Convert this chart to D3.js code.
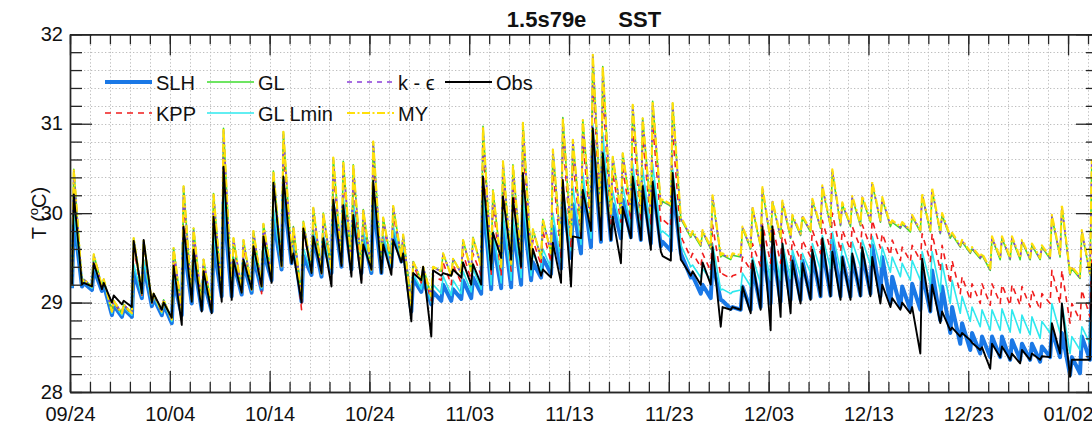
<!DOCTYPE html>
<html><head><meta charset="utf-8">
<script src="https://cdn.jsdelivr.net/npm/d3@7"></script>
<style>
body{margin:0;background:#fff;overflow:hidden}
svg{display:block}
text{font-family:Arial,"Liberation Sans",Helvetica,sans-serif}
</style>
</head><body><div id="chart"></div>
<script>
// ---------- DATA ----------
const titleLeft = "1.5s79e";
const titleRight = "SST";
const yAxisTitle = ["T (", "o", "C)"];
const seriesNames = ["SLH", "KPP", "GL", "GL Lmin", "k - \u03f5", "MY", "Obs"];
const xTickLabels = ["09/24","10/04","10/14","10/24","11/03","11/13","11/23","12/03","12/13","12/23","01/02"];
const yTickLabels = [28, 29, 30, 31, 32];
// each series: one [pre-spike trough, afternoon peak] pair per day, from 09/24 onward
const slhTemp = [
29.16,29.95, 29.18,29.22, 29.14,29.38, 29.13,29.20, 28.86,28.97, 28.84,28.93, 28.84,29.34, 29.05,29.42, 28.96,29.05, 28.86,28.98,
28.77,29.25, 28.86,29.67, 28.99,29.47, 28.92,29.25, 28.90,29.64, 29.07,30.12, 29.07,29.45, 29.09,29.44, 29.11,29.51, 29.14,29.57,
29.25,29.94, 29.37,30.24, 29.44,29.68, 29.01,29.52, 29.31,29.74, 29.29,29.70, 29.33,30.06, 29.40,30.07, 29.37,30.03, 29.33,29.74,
29.33,30.16, 29.33,29.69, 29.40,29.79, 29.46,29.64, 28.90,29.27, 29.12,29.26, 28.98,29.12, 29.02,29.20, 29.02,29.15, 29.04,29.25,
29.05,29.28, 29.10,30.20, 29.15,29.70, 29.16,29.90, 29.17,29.85, 29.20,30.05, 29.25,29.45, 29.28,29.50, 29.32,29.85, 29.38,30.15,
29.50,30.10, 29.55,30.30, 29.62,30.80, 29.68,30.70, 29.70,30.10, 29.72,30.15, 29.73,30.35, 29.70,30.30, 29.66,30.35, 29.63,29.68,
29.58,30.30, 29.55,29.50, 29.28,29.30, 29.10,29.20, 29.05,29.45, 29.03,29.02, 28.93,28.95, 28.92,29.18, 28.92,29.40, 28.95,29.62,
28.99,29.62, 29.01,29.59, 29.03,29.51, 29.03,29.47, 29.05,29.53, 29.07,29.62, 29.08,29.70, 29.07,29.51, 29.07,29.51, 29.08,29.55,
29.10,29.64, 29.07,29.51, 28.99,29.29, 28.95,29.18, 28.92,29.21, 28.92,29.33, 28.90,29.36, 28.80,29.18, 28.66,28.95, 28.54,28.77,
28.47,28.66, 28.43,28.62, 28.39,28.62, 28.39,28.62, 28.36,28.58, 28.36,28.54, 28.36,28.54, 28.34,28.51, 28.39,28.69, 28.39,28.66,
28.19,28.39, 28.21,28.62, 28.36,29.30];
const kppTemp = [
29.19,30.33, 29.21,29.25, 29.17,29.50, 29.17,29.25, 28.90,29.00, 28.87,28.97, 28.87,29.62, 29.08,29.62, 28.99,29.09, 28.89,29.02,
28.80,29.51, 28.89,30.13, 29.02,29.73, 28.95,29.42, 28.93,30.07, 29.10,30.73, 29.10,29.65, 29.12,29.63, 29.14,29.72, 29.10,29.80,
29.27,30.33, 29.40,30.73, 29.47,29.80, 28.92,29.81, 29.34,29.97, 29.32,29.92, 29.36,30.47, 29.43,30.44, 29.40,30.40, 29.25,29.96,
29.36,30.63, 29.36,29.88, 29.43,30.00, 29.49,29.72, 28.95,29.42, 29.22,29.35, 29.02,29.30, 29.25,29.45, 29.20,29.42, 29.22,29.55,
29.25,29.55, 29.30,30.80, 29.30,30.10, 29.30,30.40, 29.35,30.35, 29.35,30.80, 29.40,29.70, 29.42,29.80, 29.45,30.50, 29.50,30.85,
29.62,30.60, 29.72,30.80, 29.80,31.50, 29.85,31.35, 29.88,30.45, 29.90,30.50, 29.92,30.95, 29.90,30.85, 29.88,31.00, 29.90,29.93,
29.85,30.90, 29.75,29.70, 29.50,29.55, 29.40,29.55, 29.35,29.87, 29.30,29.32, 29.27,29.30, 29.33,29.51, 29.36,29.66, 29.40,29.88,
29.44,29.87, 29.44,29.81, 29.47,29.70, 29.47,29.70, 29.51,29.81, 29.55,29.92, 29.59,30.00, 29.57,29.81, 29.59,29.85, 29.61,29.87,
29.62,29.92, 29.61,29.77, 29.53,29.70, 29.47,29.62, 29.46,29.64, 29.47,29.77, 29.46,29.77, 29.36,29.64, 29.21,29.47, 29.10,29.29,
29.03,29.21, 28.99,29.21, 28.97,29.21, 28.99,29.20, 28.97,29.20, 28.97,29.18, 28.95,29.14, 28.92,29.10, 28.99,29.36, 28.99,29.36,
28.77,28.99, 28.80,29.14, 28.84,29.60];
const glTemp = [
29.20,30.49, 29.22,29.26, 29.18,29.54, 29.18,29.26, 28.90,29.02, 28.88,28.98, 28.88,29.72, 29.10,29.69, 29.00,29.10, 28.90,29.03,
28.81,29.61, 28.90,30.30, 29.03,29.83, 28.96,29.48, 28.94,30.22, 29.11,30.95, 29.11,29.72, 29.13,29.70, 29.15,29.80, 29.18,29.88,
29.29,30.47, 29.41,30.91, 29.48,29.85, 29.05,29.91, 29.35,30.06, 29.33,30.00, 29.37,30.62, 29.44,30.58, 29.41,30.54, 29.37,30.04,
29.37,30.80, 29.37,29.95, 29.44,30.08, 29.50,29.76, 28.96,29.46, 29.25,29.40, 29.07,29.40, 29.35,29.55, 29.30,29.49, 29.33,29.70,
29.35,29.73, 29.40,30.97, 29.45,30.26, 29.40,30.58, 29.42,30.54, 29.45,31.01, 29.50,29.82, 29.50,29.93, 29.55,30.71, 29.60,31.07,
29.72,30.82, 29.80,31.04, 29.90,31.77, 29.95,31.64, 29.98,30.63, 30.00,30.67, 30.02,31.21, 30.00,31.06, 30.00,31.25, 30.08,30.13,
30.08,31.23, 29.93,29.90, 29.73,29.78, 29.63,29.79, 29.60,30.18, 29.51,29.53, 29.48,29.53, 29.51,29.83, 29.60,30.05, 29.62,30.27,
29.68,30.12, 29.72,30.12, 29.72,29.96, 29.75,29.95, 29.79,30.14, 29.83,30.29, 29.85,30.47, 29.86,30.10, 29.85,30.17, 29.86,30.17,
29.90,30.33, 29.90,30.16, 29.85,29.90, 29.83,29.88, 29.79,29.96, 29.79,30.20, 29.79,30.26, 29.77,29.98, 29.72,29.76, 29.62,29.68,
29.55,29.60, 29.49,29.53, 29.36,29.72, 29.48,29.72, 29.48,29.72, 29.48,29.68, 29.48,29.64, 29.48,29.62, 29.49,29.96, 29.51,30.07,
29.31,29.38, 29.27,29.79, 29.31,30.58];
const glLminTemp = [
29.18,30.04, 29.20,29.24, 29.16,29.41, 29.16,29.23, 28.88,28.99, 28.86,28.95, 28.86,29.43, 29.07,29.48, 28.98,29.07, 28.88,29.00,
28.79,29.33, 28.88,29.81, 29.01,29.55, 28.94,29.30, 28.92,29.77, 29.09,30.31, 29.09,29.51, 29.11,29.50, 29.13,29.57, 29.16,29.64,
29.27,30.06, 29.39,30.39, 29.46,29.72, 29.03,29.61, 29.33,29.81, 29.31,29.77, 29.35,30.18, 29.42,30.18, 29.39,30.14, 29.35,29.81,
29.35,30.30, 29.35,29.75, 29.42,29.86, 29.48,29.67, 28.93,29.32, 29.15,29.30, 29.00,29.20, 29.10,29.30, 29.08,29.25, 29.10,29.35,
29.12,29.38, 29.15,30.30, 29.20,29.80, 29.22,30.00, 29.25,29.95, 29.28,30.20, 29.30,29.55, 29.35,29.60, 29.38,30.00, 29.45,30.30,
29.58,30.30, 29.65,30.45, 29.72,31.00, 29.78,30.90, 29.80,30.25, 29.82,30.30, 29.85,30.55, 29.83,30.50, 29.80,30.55, 29.78,29.80,
29.72,30.50, 29.65,29.60, 29.40,29.42, 29.28,29.38, 29.25,29.66, 29.14,29.15, 29.10,29.12, 29.14,29.33, 29.18,29.51, 29.21,29.70,
29.25,29.70, 29.25,29.66, 29.27,29.59, 29.29,29.55, 29.33,29.66, 29.36,29.75, 29.38,29.79, 29.36,29.66, 29.36,29.68, 29.40,29.70,
29.42,29.74, 29.40,29.62, 29.34,29.51, 29.29,29.44, 29.25,29.47, 29.25,29.57, 29.21,29.57, 29.12,29.44, 28.99,29.25, 28.88,29.07,
28.79,28.95, 28.73,28.92, 28.69,28.92, 28.69,28.93, 28.67,28.92, 28.66,28.86, 28.64,28.84, 28.60,28.79, 28.66,28.99, 28.66,28.99,
28.43,28.62, 28.47,28.73, 28.54,29.40];
const keTemp = [
29.20,30.47, 29.22,29.26, 29.18,29.53, 29.18,29.26, 28.90,29.02, 28.88,28.98, 28.88,29.71, 29.10,29.68, 29.00,29.10, 28.90,29.03,
28.81,29.60, 28.90,30.28, 29.03,29.82, 28.96,29.48, 28.94,30.20, 29.11,30.92, 29.11,29.71, 29.13,29.69, 29.15,29.79, 29.18,29.87,
29.29,30.45, 29.41,30.88, 29.48,29.84, 29.05,29.90, 29.35,30.05, 29.33,29.99, 29.37,30.60, 29.44,30.56, 29.41,30.52, 29.37,30.03,
29.37,30.78, 29.37,29.94, 29.44,30.07, 29.50,29.75, 28.96,29.45, 29.25,29.40, 29.07,29.39, 29.35,29.54, 29.30,29.48, 29.33,29.69,
29.35,29.72, 29.40,30.95, 29.45,30.24, 29.40,30.56, 29.42,30.52, 29.45,30.99, 29.50,29.81, 29.50,29.92, 29.55,30.69, 29.60,31.05,
29.72,30.80, 29.80,31.02, 29.90,31.75, 29.95,31.62, 29.98,30.62, 30.00,30.66, 30.02,31.19, 30.00,31.04, 30.00,31.23, 30.09,30.14,
30.09,31.21, 29.94,29.91, 29.74,29.79, 29.64,29.80, 29.61,30.19, 29.52,29.54, 29.49,29.54, 29.52,29.84, 29.61,30.06, 29.63,30.28,
29.69,30.13, 29.73,30.13, 29.73,29.97, 29.76,29.96, 29.80,30.15, 29.84,30.30, 29.86,30.48, 29.87,30.11, 29.86,30.18, 29.87,30.18,
29.91,30.34, 29.91,30.17, 29.86,29.91, 29.84,29.89, 29.80,29.97, 29.80,30.21, 29.80,30.27, 29.78,29.99, 29.73,29.77, 29.63,29.69,
29.56,29.61, 29.50,29.54, 29.37,29.73, 29.49,29.73, 29.49,29.73, 29.49,29.69, 29.49,29.65, 29.49,29.63, 29.50,29.97, 29.52,30.08,
29.32,29.39, 29.28,29.80, 29.32,30.59];
const myTemp = [
29.20,30.49, 29.22,29.26, 29.18,29.54, 29.18,29.26, 28.90,29.02, 28.88,28.98, 28.88,29.72, 29.10,29.69, 29.00,29.10, 28.90,29.03,
28.81,29.61, 28.90,30.30, 29.03,29.83, 28.96,29.48, 28.94,30.22, 29.11,30.95, 29.11,29.72, 29.13,29.70, 29.15,29.80, 29.18,29.88,
29.29,30.47, 29.41,30.91, 29.48,29.85, 29.05,29.91, 29.35,30.06, 29.33,30.00, 29.37,30.62, 29.44,30.58, 29.41,30.54, 29.37,30.04,
29.37,30.80, 29.37,29.95, 29.44,30.08, 29.50,29.76, 28.96,29.46, 29.25,29.40, 29.07,29.40, 29.35,29.55, 29.30,29.49, 29.33,29.70,
29.35,29.73, 29.40,30.97, 29.45,30.26, 29.40,30.58, 29.42,30.54, 29.45,31.01, 29.50,29.82, 29.50,29.93, 29.55,30.71, 29.60,31.07,
29.72,30.82, 29.80,31.04, 29.90,31.77, 29.95,31.64, 29.98,30.63, 30.00,30.67, 30.02,31.21, 30.00,31.06, 30.00,31.25, 30.10,30.15,
30.10,31.23, 29.95,29.92, 29.75,29.80, 29.65,29.81, 29.62,30.20, 29.53,29.55, 29.50,29.55, 29.53,29.85, 29.62,30.07, 29.64,30.29,
29.70,30.14, 29.74,30.14, 29.74,29.98, 29.77,29.97, 29.81,30.16, 29.85,30.31, 29.87,30.49, 29.88,30.12, 29.87,30.19, 29.88,30.19,
29.92,30.35, 29.92,30.18, 29.87,29.92, 29.85,29.90, 29.81,29.98, 29.81,30.22, 29.81,30.28, 29.79,30.00, 29.74,29.78, 29.64,29.70,
29.57,29.62, 29.51,29.55, 29.38,29.74, 29.50,29.74, 29.50,29.74, 29.50,29.70, 29.50,29.66, 29.50,29.64, 29.51,29.98, 29.53,30.09,
29.33,29.40, 29.29,29.81, 29.33,30.60];
const obsTemp = [
29.20,30.21, 29.20,29.22, 29.18,29.44, 29.15,29.22, 29.00,29.08, 28.98,29.02, 28.95,29.69, 29.10,29.70, 29.00,29.10, 28.92,29.00,
28.83,29.41, 28.75,29.85, 29.01,29.59, 28.90,29.35, 28.88,29.96, 29.01,30.52, 29.03,29.48, 29.11,29.48, 29.15,29.63, 29.18,29.74,
29.22,30.34, 29.41,30.41, 29.44,29.55, 29.00,29.83, 29.33,29.74, 29.33,29.72, 29.18,30.15, 29.41,30.09, 29.29,29.98, 29.22,29.65,
29.37,30.36, 29.33,29.65, 29.31,29.70, 29.45,29.55, 28.79,29.33, 29.25,29.40, 28.62,29.36, 29.30,29.33, 29.30,29.37, 29.28,29.45,
29.20,29.43, 29.20,30.41, 29.37,29.78, 29.50,30.19, 29.48,30.17, 29.40,30.45, 29.37,29.60, 29.30,29.37, 29.28,29.67, 29.22,30.37,
29.18,29.74, 29.72,30.26, 29.80,30.95, 29.70,30.67, 29.70,29.96, 29.44,30.07, 29.72,30.41, 29.70,30.30, 29.59,30.35, 29.57,29.52,
29.47,30.45, 29.48,29.45, 29.30,29.35, 29.20,29.45, 29.20,29.62, 28.73,28.95, 28.92,28.95, 28.92,29.18, 28.88,29.47, 28.92,29.85,
28.69,29.85, 28.84,29.66, 28.88,29.47, 28.99,29.44, 29.03,29.59, 29.07,29.72, 29.07,29.57, 29.03,29.51, 29.03,29.55, 29.07,29.62,
29.07,29.51, 28.99,29.20, 28.95,29.05, 28.92,29.00, 28.88,28.95, 28.43,29.49, 28.90,29.20, 28.77,28.90, 28.69,28.72, 28.62,28.66,
28.58,28.55, 28.47,28.50, 28.26,28.54, 28.39,28.51, 28.36,28.43, 28.32,28.47, 28.36,28.43, 28.36,28.40, 28.39,28.77, 28.43,28.99,
28.17,28.36, 28.36,28.36, 28.36,29.44];

// ---------- LAYOUT / STYLE ----------
const W = 1110, H = 426;
const X0 = 70, X1 = 1098, Y0 = 392, Y1 = 34.3;
const startDate = Date.UTC(2013, 8, 24);
const DAY = 864e5;
const endDate = startDate + 103 * DAY;
const sampleOffset = [0.2, 0.38]; // time of day of trough / peak sample
const styles = [
  {data: slhTemp,    color: "#1a78e6", width: 4,   dash: null},
  {data: glLminTemp, color: "#2ee8ee", width: 1.6, dash: null},
  {data: kppTemp,    color: "#f01c1c", width: 1.6, dash: "6,5"},
  {data: glTemp,     color: "#3edc2e", width: 1.6, dash: null},
  {data: keTemp,     color: "#8a3fd8", width: 1.6, dash: "5,5"},
  {data: myTemp,     color: "#ffdf0a", width: 2.2, dash: "8,2.5,2,2.5"},
  {data: obsTemp,    color: "#000000", width: 1.9, dash: null}
];
const styleByName = {
  "SLH": styles[0], "GL Lmin": styles[1], "KPP": styles[2], "GL": styles[3],
  "k - \u03f5": styles[4], "MY": styles[5], "Obs": styles[6]
};
const legendPos = [
  {name: "SLH", col: 0, row: 0}, {name: "GL", col: 1, row: 0}, {name: "k - \u03f5", col: 2, row: 0}, {name: "Obs", col: 3, row: 0},
  {name: "KPP", col: 0, row: 1}, {name: "GL Lmin", col: 1, row: 1}, {name: "MY", col: 2, row: 1}
];
const legendColX = [105, 207, 347, 445];
const legendRowY = [82, 113];

const svg = d3.select("#chart").append("svg").attr("width", W).attr("height", H);
const x = d3.scaleUtc().domain([startDate, endDate]).range([X0, X1]);
const y = d3.scaleLinear().domain([28, 32]).range([Y0, Y1]);

// grid
const minorDates = d3.range(0, 104, 2).map(d => new Date(startDate + d * DAY));
const majorDates = d3.range(0, 110, 10).map(d => new Date(startDate + d * DAY));
const minorY = d3.range(28, 32.001, 0.2).map(v => +v.toFixed(1));
const grid = svg.append("g").attr("stroke", "#bdbdbd").attr("stroke-width", 1).attr("stroke-dasharray", "1.3,2.2");
grid.selectAll(".gx").data(minorDates).join("line")
  .attr("x1", d => Math.round(x(d)) + 0.5).attr("x2", d => Math.round(x(d)) + 0.5).attr("y1", Y1).attr("y2", Y0);
grid.selectAll(".gy").data(minorY).join("line")
  .attr("x1", X0).attr("x2", X1).attr("y1", d => Math.round(y(d)) + 0.5).attr("y2", d => Math.round(y(d)) + 0.5);

// lines
svg.append("clipPath").attr("id", "clip").append("rect")
  .attr("x", X0).attr("y", Y1).attr("width", X1 - X0).attr("height", Y0 - Y1);
const line = d3.line().x(d => x(d.t)).y(d => y(d.v));
const plot = svg.append("g").attr("clip-path", "url(#clip)");
styles.forEach(s => {
  const pts = s.data.map((v, i) => ({t: new Date(startDate + (Math.floor(i / 2) + sampleOffset[i % 2]) * DAY), v}));
  plot.append("path").datum(pts).attr("d", line)
    .attr("fill", "none").attr("stroke", s.color).attr("stroke-width", s.width)
    .attr("stroke-linejoin", "round").attr("stroke-dasharray", s.dash);
});

// axes
const axisColor = "#262626";
function styleAxis(g) {
  g.select(".domain").attr("stroke", axisColor).attr("stroke-width", 1.4);
  g.selectAll(".tick line").attr("stroke", axisColor).attr("stroke-width", 1.3);
  g.selectAll("text").attr("font-size", 20).attr("fill", "#111").attr("font-family", "Arial, 'Liberation Sans', sans-serif");
}
svg.append("g").attr("transform", `translate(0,${Y0})`)
  .call(d3.axisBottom(x).tickValues(minorDates).tickSize(-10).tickSizeOuter(0).tickFormat("")).call(styleAxis);
svg.append("g").attr("transform", `translate(0,${Y0})`)
  .call(d3.axisBottom(x).tickValues(majorDates).tickSize(-21).tickSizeOuter(0).tickPadding(15)
    .tickFormat((d, i) => xTickLabels[i])).call(styleAxis);
svg.append("g").attr("transform", `translate(0,${Y1})`)
  .call(d3.axisTop(x).tickValues(minorDates).tickSize(-10).tickSizeOuter(0).tickFormat("")).call(styleAxis);
svg.append("g").attr("transform", `translate(0,${Y1})`)
  .call(d3.axisTop(x).tickValues(majorDates).tickSize(-21).tickSizeOuter(0).tickFormat("")).call(styleAxis);
svg.append("g").attr("transform", `translate(${X0},0)`)
  .call(d3.axisLeft(y).tickValues(minorY).tickSize(-12).tickSizeOuter(0).tickFormat("")).call(styleAxis);
svg.append("g").attr("transform", `translate(${X0},0)`)
  .call(d3.axisLeft(y).tickValues(yTickLabels).tickSize(-22).tickSizeOuter(0).tickPadding(7).tickFormat(d3.format("d")))
  .call(styleAxis).selectAll("text").attr("dy", "0.3em");
svg.append("g").attr("transform", `translate(${X1},0)`)
  .call(d3.axisRight(y).tickValues(minorY).tickSize(-12).tickSizeOuter(0).tickFormat("")).call(styleAxis);
svg.append("g").attr("transform", `translate(${X1},0)`)
  .call(d3.axisRight(y).tickValues(yTickLabels).tickSize(-22).tickSizeOuter(0).tickFormat("")).call(styleAxis);

// title
const cx = (X0 + X1) / 2;
const title = svg.append("text").attr("x", cx).attr("y", 27).attr("text-anchor", "middle")
  .attr("font-size", 22).attr("font-weight", "bold").attr("fill", "#111");
title.append("tspan").text(titleLeft);
title.append("tspan").attr("dx", 32).text(titleRight);

// y axis title
const yt = svg.append("text").attr("transform", "translate(46,213) rotate(-90)")
  .attr("text-anchor", "middle").attr("font-size", 20).attr("fill", "#111");
yt.append("tspan").text(yAxisTitle[0]);
yt.append("tspan").attr("dy", -8).attr("font-size", 13).text(yAxisTitle[1]);
yt.append("tspan").attr("dy", 8).text(yAxisTitle[2]);

// legend
const lg = svg.append("g");
legendPos.forEach(p => {
  const s = styleByName[p.name];
  const lx = legendColX[p.col], ly = legendRowY[p.row];
  lg.append("line").attr("x1", lx).attr("x2", lx + 47).attr("y1", ly).attr("y2", ly)
    .attr("stroke", s.color).attr("stroke-width", s.width).attr("stroke-dasharray", s.dash);
  lg.append("text").attr("x", lx + 51).attr("y", ly + 7.5).attr("font-size", 20).attr("fill", "#111").text(p.name);
});
</script>
</body></html>
